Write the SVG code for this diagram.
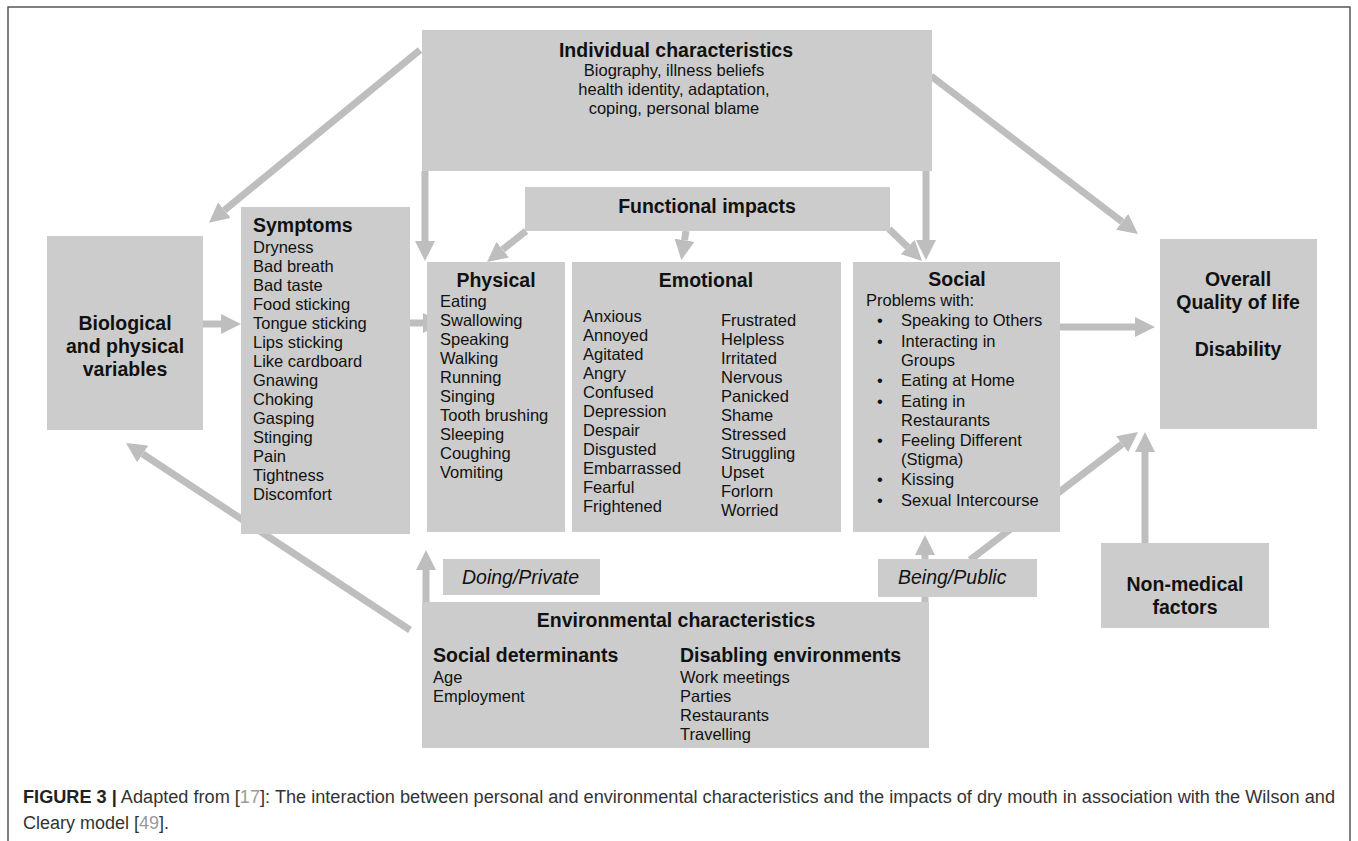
<svg xmlns="http://www.w3.org/2000/svg" width="1358" height="841" viewBox="0 0 1358 841">
  <defs>
    <marker id="head" markerUnits="userSpaceOnUse" markerWidth="20" markerHeight="20" viewBox="0 0 20 20" refX="0" refY="10" orient="auto">
      <path d="M0,0 L20,10 L0,20 z" fill="#bebebe"/>
    </marker>
    <style>
      text { font-family: "Liberation Sans", Arial, sans-serif; fill: #111; }
      .box { fill: #cccccc; }
      .t { font-size: 19.5px; font-weight: bold; }
      .b { font-size: 16.5px; }
      .i { font-size: 19.5px; font-style: italic; }
      .c { text-anchor: middle; }
      .wire { fill: none; stroke: #bebebe; stroke-width: 7; marker-end: url(#head); }
      .cap { font-size: 18px; fill: #333; }
      .ref { fill: #9a9a9a; }
    </style>
  </defs>

  <rect width="1358" height="841" fill="#ffffff"/>
  <!-- figure frame (open at the bottom edge) -->
  <path d="M8,845 L8,7 L1350,7 L1350,845" fill="none" stroke="#555" stroke-width="1.5"/>

  <g id="connectors">
    <path class="wire" d="M420,50 L224.4,210.2"/>
    <path class="wire" d="M425,171 L425,241"/>
    <path class="wire" d="M926,171 L926,240"/>
    <path class="wire" d="M931,76 L1122.1,221.8"/>
    <path class="wire" d="M526,231 L502.7,249.6"/>
    <path class="wire" d="M686,231 L684.5,240.3"/>
    <path class="wire" d="M889,229 L907.7,247.1"/>
    <path class="wire" d="M203,324 L221,324"/>
    <path class="wire" d="M410,323 L423,323"/>
    <path class="wire" d="M1060,327 L1135,327"/>
    <path class="wire" d="M970,560 L1122.1,444.1"/>
    <path class="wire" d="M1145,543 L1145,452"/>
    <path class="wire" d="M925,602 L925,555"/>
    <path class="wire" d="M426,602 L426,570"/>
    <path class="wire" d="M410,630 L142.7,454"/>
  </g>

  <g id="individual">
    <rect class="box" x="422" y="30" width="510" height="141"/>
    <text class="t c" x="676" y="57">Individual characteristics</text>
    <text class="b c" x="674" y="76">Biography, illness beliefs</text>
    <text class="b c" x="674" y="95">health identity, adaptation,</text>
    <text class="b c" x="674" y="114">coping, personal blame</text>
  </g>

  <g id="functional">
    <rect class="box" x="525" y="187" width="365" height="44"/>
    <text class="t c" x="707" y="213">Functional impacts</text>
  </g>

  <g id="biological">
    <rect class="box" x="47" y="236" width="156" height="194"/>
    <text class="t c" x="125" y="330">Biological</text>
    <text class="t c" x="125" y="353">and physical</text>
    <text class="t c" x="125" y="376">variables</text>
  </g>

  <g id="symptoms">
    <rect class="box" x="241" y="207" width="169" height="327"/>
    <text class="t" x="253" y="232">Symptoms</text>
    <text class="b" x="253" y="253">Dryness</text>
    <text class="b" x="253" y="272">Bad breath</text>
    <text class="b" x="253" y="291">Bad taste</text>
    <text class="b" x="253" y="310">Food sticking</text>
    <text class="b" x="253" y="329">Tongue sticking</text>
    <text class="b" x="253" y="348">Lips sticking</text>
    <text class="b" x="253" y="367">Like cardboard</text>
    <text class="b" x="253" y="386">Gnawing</text>
    <text class="b" x="253" y="405">Choking</text>
    <text class="b" x="253" y="424">Gasping</text>
    <text class="b" x="253" y="443">Stinging</text>
    <text class="b" x="253" y="462">Pain</text>
    <text class="b" x="253" y="481">Tightness</text>
    <text class="b" x="253" y="500">Discomfort</text>
  </g>

  <g id="physical">
    <rect class="box" x="427" y="262" width="138" height="270"/>
    <text class="t c" x="496" y="287">Physical</text>
    <text class="b" x="440" y="307">Eating</text>
    <text class="b" x="440" y="326">Swallowing</text>
    <text class="b" x="440" y="345">Speaking</text>
    <text class="b" x="440" y="364">Walking</text>
    <text class="b" x="440" y="383">Running</text>
    <text class="b" x="440" y="402">Singing</text>
    <text class="b" x="440" y="421">Tooth brushing</text>
    <text class="b" x="440" y="440">Sleeping</text>
    <text class="b" x="440" y="459">Coughing</text>
    <text class="b" x="440" y="478">Vomiting</text>
  </g>

  <g id="emotional">
    <rect class="box" x="572" y="262" width="269" height="270"/>
    <text class="t c" x="706" y="287">Emotional</text>
    <text class="b" x="583" y="322">Anxious</text>
    <text class="b" x="583" y="341">Annoyed</text>
    <text class="b" x="583" y="360">Agitated</text>
    <text class="b" x="583" y="379">Angry</text>
    <text class="b" x="583" y="398">Confused</text>
    <text class="b" x="583" y="417">Depression</text>
    <text class="b" x="583" y="436">Despair</text>
    <text class="b" x="583" y="455">Disgusted</text>
    <text class="b" x="583" y="474">Embarrassed</text>
    <text class="b" x="583" y="493">Fearful</text>
    <text class="b" x="583" y="512">Frightened</text>
    <text class="b" x="721" y="326">Frustrated</text>
    <text class="b" x="721" y="345">Helpless</text>
    <text class="b" x="721" y="364">Irritated</text>
    <text class="b" x="721" y="383">Nervous</text>
    <text class="b" x="721" y="402">Panicked</text>
    <text class="b" x="721" y="421">Shame</text>
    <text class="b" x="721" y="440">Stressed</text>
    <text class="b" x="721" y="459">Struggling</text>
    <text class="b" x="721" y="478">Upset</text>
    <text class="b" x="721" y="497">Forlorn</text>
    <text class="b" x="721" y="516">Worried</text>
  </g>

  <g id="social">
    <rect class="box" x="853" y="262" width="207" height="270"/>
    <text class="t c" x="957" y="286">Social</text>
    <text class="b" x="866" y="306">Problems with:</text>
    <text class="b" x="877" y="326">•</text><text class="b" x="901" y="326">Speaking to Others</text>
    <text class="b" x="877" y="347">•</text><text class="b" x="901" y="347">Interacting in</text>
    <text class="b" x="901" y="366">Groups</text>
    <text class="b" x="877" y="386">•</text><text class="b" x="901" y="386">Eating at Home</text>
    <text class="b" x="877" y="407">•</text><text class="b" x="901" y="407">Eating in</text>
    <text class="b" x="901" y="426">Restaurants</text>
    <text class="b" x="877" y="446">•</text><text class="b" x="901" y="446">Feeling Different</text>
    <text class="b" x="901" y="465">(Stigma)</text>
    <text class="b" x="877" y="485">•</text><text class="b" x="901" y="485">Kissing</text>
    <text class="b" x="877" y="506">•</text><text class="b" x="901" y="506">Sexual Intercourse</text>
  </g>

  <g id="quality-of-life">
    <rect class="box" x="1160" y="239" width="157" height="190"/>
    <text class="t c" x="1238" y="286">Overall</text>
    <text class="t c" x="1238" y="309">Quality of life</text>
    <text class="t c" x="1238" y="356">Disability</text>
  </g>

  <g id="non-medical">
    <rect class="box" x="1101" y="543" width="168" height="85"/>
    <text class="t c" x="1185" y="591">Non-medical</text>
    <text class="t c" x="1185" y="614">factors</text>
  </g>

  <g id="doing-private">
    <rect class="box" x="443" y="559" width="157" height="36"/>
    <text class="i" x="462" y="584">Doing/Private</text>
  </g>

  <g id="being-public">
    <rect class="box" x="878" y="559" width="159" height="38"/>
    <text class="i" x="898" y="584">Being/Public</text>
  </g>

  <g id="environmental">
    <rect class="box" x="422" y="602" width="507" height="146"/>
    <text class="t c" x="676" y="627">Environmental characteristics</text>
    <text class="t" x="433" y="662">Social determinants</text>
    <text class="b" x="433" y="683">Age</text>
    <text class="b" x="433" y="702">Employment</text>
    <text class="t" x="680" y="662">Disabling environments</text>
    <text class="b" x="680" y="683">Work meetings</text>
    <text class="b" x="680" y="702">Parties</text>
    <text class="b" x="680" y="721">Restaurants</text>
    <text class="b" x="680" y="740">Travelling</text>
  </g>

  <g id="caption">
    <text class="cap" x="23" y="803" textLength="1312" lengthAdjust="spacingAndGlyphs"><tspan font-weight="bold" fill="#222">FIGURE 3 |</tspan> Adapted from [<tspan class="ref">17</tspan>]: The interaction between personal and environmental characteristics and the impacts of dry mouth in association with the Wilson and</text>
    <text class="cap" x="23" y="829">Cleary model [<tspan class="ref">49</tspan>].</text>
  </g>
</svg>
